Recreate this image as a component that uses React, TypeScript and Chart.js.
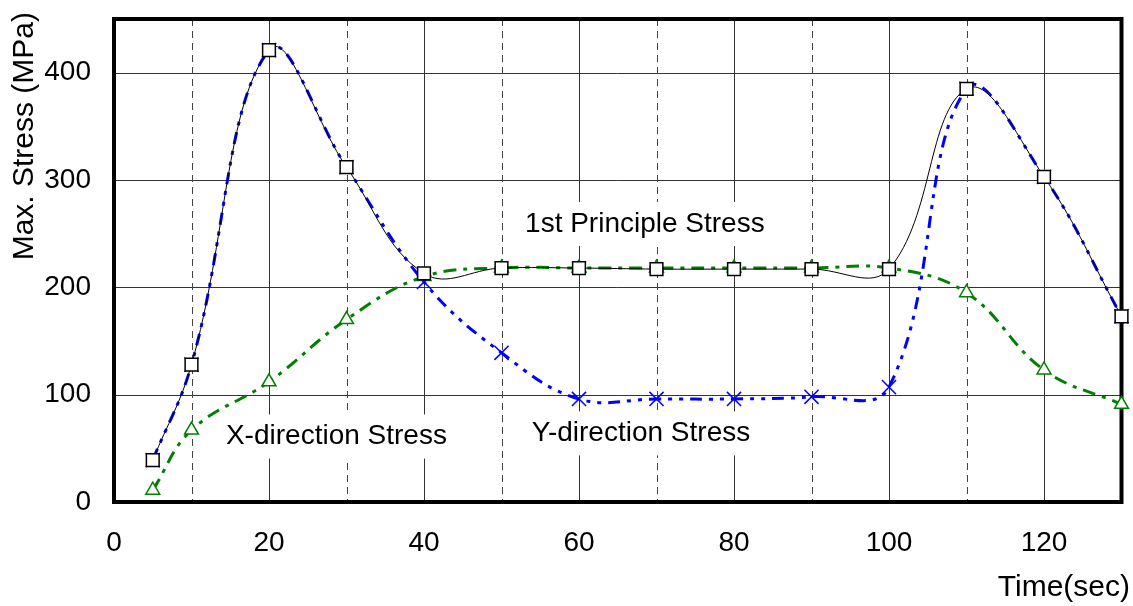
import React, { useEffect, useRef } from "react";
import { Chart, registerables } from "chart.js";

Chart.register(...registerables);

// ---- data ----
const times = [5, 10, 20, 30, 40, 50, 60, 70, 80, 90, 100, 110, 120, 130];
const principalStress = [39, 128, 421, 312, 213, 218, 218, 217, 217, 217, 217, 385, 303, 173];
const yDirStress = [39, 128, 421, 312, 205, 139, 96, 96, 96, 98, 107, 385, 303, 173];
const xDirStress = [11, 67, 112, 170, 210, 218, 218, 218, 218, 218, 218, 195, 123, 91];

const xTicks = [0, 20, 40, 60, 80, 100, 120];
const yTicks = [0, 100, 200, 300, 400];
const xGridSolid = [20, 40, 60, 80, 100, 120];
const xGridDashed = [10, 30, 50, 70, 90, 110];
const yGridSolid = [100, 200, 300, 400];

const seriesNames = ["1st Principle Stress", "Y-direction Stress", "X-direction Stress"];
const xTitle = "Time(sec)";
const yTitle = "Max. Stress (MPa)";

const notes = [
  { text: "1st Principle Stress", x: 68.5, y: 259 },
  { text: "X-direction Stress", x: 28.7, y: 61 },
  { text: "Y-direction Stress", x: 68, y: 64 },
];

const FONT = "'Liberation Sans', Arial, sans-serif";

const toXY = (ys: number[]) => times.map((t, i) => ({ x: t, y: ys[i] }));

const framePlugin = {
  id: "frameAndGrid",
  beforeDatasetsDraw(chart: any) {
    const { ctx, chartArea: a, scales } = chart;
    const xs = scales.x;
    const ys = scales.y;
    ctx.save();
    ctx.lineWidth = 1;
    ctx.strokeStyle = "#333";
    ctx.setLineDash([]);
    for (const v of xGridSolid) {
      const px = Math.round(xs.getPixelForValue(v)) + 0.5;
      ctx.beginPath();
      ctx.moveTo(px, a.top);
      ctx.lineTo(px, a.bottom);
      ctx.stroke();
    }
    for (const v of yGridSolid) {
      const py = Math.round(ys.getPixelForValue(v)) + 0.5;
      ctx.beginPath();
      ctx.moveTo(a.left, py);
      ctx.lineTo(a.right, py);
      ctx.stroke();
    }
    ctx.strokeStyle = "#444";
    ctx.setLineDash([7, 5]);
    for (const v of xGridDashed) {
      const px = Math.round(xs.getPixelForValue(v)) + 0.5;
      ctx.beginPath();
      ctx.moveTo(px, a.top);
      ctx.lineTo(px, a.bottom);
      ctx.stroke();
    }
    ctx.setLineDash([]);
    ctx.font = `28px ${FONT}`;
    ctx.textAlign = "center";
    ctx.textBaseline = "middle";
    for (const n of notes) {
      const px = xs.getPixelForValue(n.x);
      const py = ys.getPixelForValue(n.y);
      const w = ctx.measureText(n.text).width;
      ctx.fillStyle = "#fff";
      ctx.fillRect(px - w / 2 - 10, py - 22, w + 20, 44);
      ctx.fillStyle = "#000";
      ctx.fillText(n.text, px, py);
    }
    ctx.strokeStyle = "#000";
    ctx.lineWidth = 4;
    ctx.strokeRect(a.left, a.top, a.right - a.left, a.bottom - a.top);
    ctx.restore();
  },
  afterDraw(chart: any) {
    const { ctx } = chart;
    ctx.save();
    ctx.fillStyle = "#000";
    ctx.font = `30px ${FONT}`;
    ctx.textBaseline = "middle";
    ctx.textAlign = "right";
    ctx.fillText(xTitle, 1130, 588);
    ctx.translate(25, 12);
    ctx.rotate(-Math.PI / 2);
    ctx.fillText(yTitle, 0, 0);
    ctx.restore();
  },
};

export default function App() {
  const ref = useRef<HTMLCanvasElement | null>(null);
  useEffect(() => {
    if (!ref.current) return;
    const chart = new Chart(ref.current, {
      type: "line",
      data: {
        datasets: [
          {
            label: seriesNames[0],
            data: toXY(principalStress),
            borderColor: "#000",
            borderWidth: 1,
            pointStyle: "rect",
            pointRadius: 9,
            pointBackgroundColor: "#fff",
            pointBorderColor: "#000",
            pointBorderWidth: 1.5,
            tension: 0.4,
            fill: false,
            clip: false,
          },
          {
            label: seriesNames[1],
            data: toXY(yDirStress),
            borderColor: "#0000ff",
            borderWidth: 3,
            borderDash: [12, 7, 4, 7, 4, 7],
            pointStyle: "crossRot",
            pointRadius: 10,
            pointBorderColor: "#0000ff",
            pointBackgroundColor: "#0000ff",
            pointBorderWidth: 1.5,
            tension: 0.4,
            fill: false,
            clip: false,
          },
          {
            label: seriesNames[2],
            data: toXY(xDirStress),
            borderColor: "#008000",
            borderWidth: 3,
            borderDash: [13, 7, 4, 7],
            pointStyle: "triangle",
            pointRadius: 8,
            pointBackgroundColor: "#fff",
            pointBorderColor: "#008000",
            pointBorderWidth: 1.5,
            tension: 0.4,
            fill: false,
            clip: false,
          },
        ],
      },
      options: {
        responsive: false,
        animation: false,
        events: [],
        layout: { padding: { top: 19, right: 9, left: 0, bottom: 0 } },
        plugins: { legend: { display: false }, tooltip: { enabled: false } },
        scales: {
          x: {
            type: "linear",
            min: 0,
            max: 130,
            grid: { display: false, drawTicks: false },
            border: { display: false },
            afterBuildTicks: (s: any) => {
              s.ticks = xTicks.map((v) => ({ value: v }));
            },
            afterFit: (s: any) => {
              s.height = 104;
              s.paddingLeft = 0;
              s.paddingRight = 0;
            },
            ticks: {
              color: "#000",
              font: { family: FONT, size: 28 },
              padding: 24,
              maxRotation: 0,
              autoSkip: false,
            },
            title: { display: false },
          },
          y: {
            type: "linear",
            min: 0,
            max: 450,
            grid: { display: false, drawTicks: false },
            border: { display: false },
            afterBuildTicks: (s: any) => {
              s.ticks = yTicks.map((v) => ({ value: v }));
            },
            afterFit: (s: any) => {
              s.width = 114;
              s.paddingTop = 0;
              s.paddingBottom = 0;
            },
            ticks: {
              color: "#000",
              font: { family: FONT, size: 28 },
              padding: 23,
              autoSkip: false,
            },
            title: { display: false },
          },
        },
      },
      plugins: [framePlugin],
    } as any);
    return () => chart.destroy();
  }, []);
  return (
    <div style={{ position: "fixed", left: 0, top: 0, width: 1133, height: 606, background: "#fff" }}>
      <canvas ref={ref} width={1133} height={606} style={{ display: "block" }} />
    </div>
  );
}
